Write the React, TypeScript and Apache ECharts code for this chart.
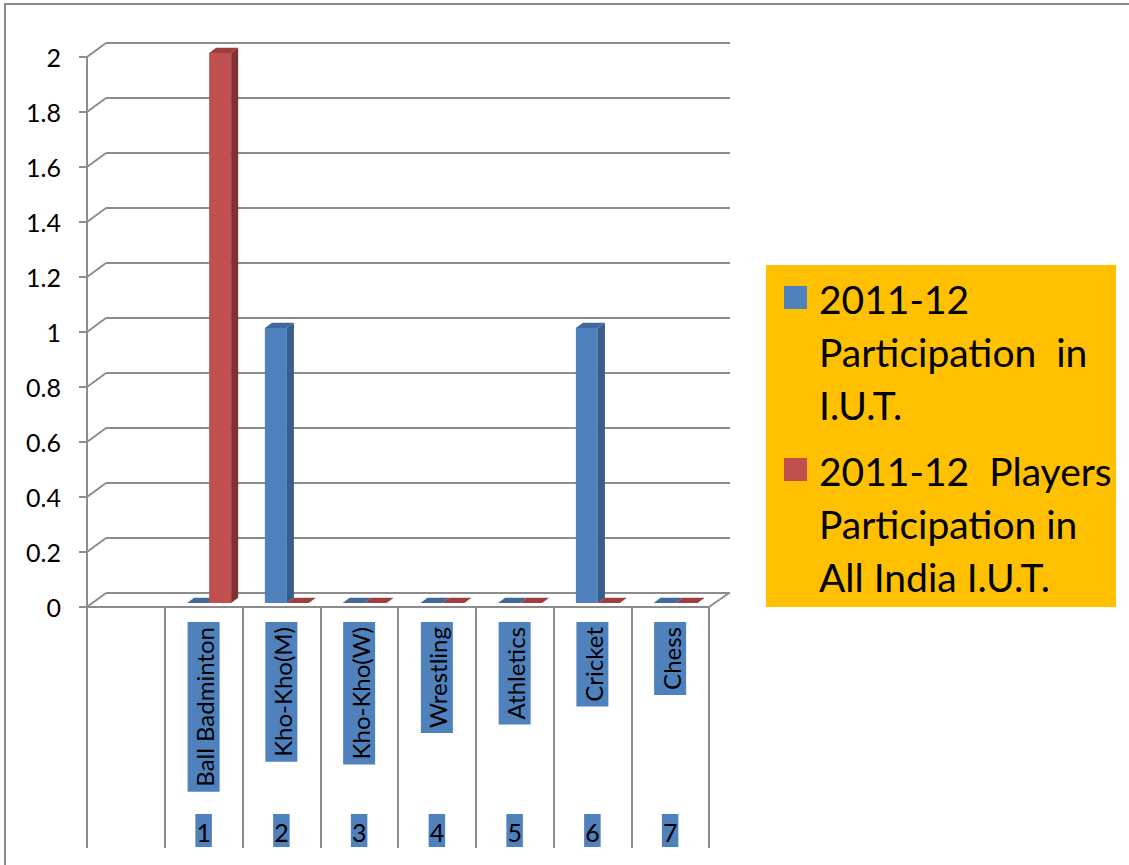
import React, { useEffect, useRef } from "react";
import * as echarts from "echarts";

const categories = ["", "Ball Badminton", "Kho-Kho(M)", "Kho-Kho(W)", "Wrestling", "Athletics", "Cricket", "Chess"];
const categoryNumbers = ["", "1", "2", "3", "4", "5", "6", "7"];
const participationIUT = [null, 0, 1, 0, 0, 0, 1, 0];
const playersAllIndia = [null, 2, 0, 0, 0, 0, 0, 0];
const seriesNames = ["2011-12 Participation  in I.U.T.", "2011-12  Players Participation in All India I.U.T."];
const legendLines = [
  ["2011-12", "Participation  in", "I.U.T."],
  ["2011-12  Players", "Participation in", "All India I.U.T."],
];
const yTicks = [0, 0.2, 0.4, 0.6, 0.8, 1, 1.2, 1.4, 1.6, 1.8, 2];

const FONT = "Lato";
const GRID_COLOR = "#8c8c8c";
const DEPTH = [19, -14];
const FRONT = ["#4F81BD", "#C0504D"];
const SIDE = ["#385D8A", "#7E3231"];
const TOP = ["#41699B", "#9E3F3C"];

function toData(arr: (number | null)[]) {
  const out: number[][] = [];
  arr.forEach((v, i) => {
    if (v !== null) out.push([i, v]);
  });
  return out;
}

function barRenderer(si: number) {
  return (params: any, api: any) => {
    const cat = api.value(0);
    const val = api.value(1);
    const base = api.coord([cat, 0]);
    const top = api.coord([cat, val]);
    const catW = api.size([1, 0])[0];
    const bw = catW * 0.283;
    const d0 = 0.29;
    const dd = 0.37;
    const ox = DEPTH[0] * d0;
    const oy = DEPTH[1] * d0;
    const ddx = DEPTH[0] * dd;
    const ddy = DEPTH[1] * dd;
    const xl = base[0] + (si === 0 ? -bw : 0) + ox;
    const xr = xl + bw;
    const yb = base[1] + oy;
    const yt = top[1] + oy;
    const children: any[] = [];
    if (yb - yt > 0.5) {
      children.push({
        type: "rect",
        shape: { x: xl, y: yt, width: bw, height: yb - yt },
        style: { fill: FRONT[si] },
      });
      children.push({
        type: "polygon",
        shape: { points: [[xr, yt], [xr + ddx, yt + ddy], [xr + ddx, yb + ddy], [xr, yb]] },
        style: { fill: SIDE[si] },
      });
    }
    children.push({
      type: "polygon",
      shape: { points: [[xl, yt], [xl + ddx, yt + ddy], [xr + ddx, yt + ddy], [xr, yt]] },
      style: { fill: TOP[si] },
    });
    return { type: "group", children };
  };
}

function wallRenderer(params: any, api: any) {
  const cs = params.coordSys;
  const v = api.value(1);
  const y = api.coord([0, v])[1];
  const children: any[] = [
    {
      type: "line",
      shape: { x1: cs.x, y1: y, x2: cs.x + DEPTH[0], y2: y + DEPTH[1] },
      style: { stroke: GRID_COLOR, lineWidth: 2 },
    },
  ];
  if (v === 0) {
    children.push({
      type: "line",
      shape: { x1: cs.x + cs.width, y1: y, x2: cs.x + cs.width + DEPTH[0] + 1, y2: y + DEPTH[1] },
      style: { stroke: GRID_COLOR, lineWidth: 2 },
    });
  }
  return { type: "group", children };
}

export default function App() {
  const ref = useRef<HTMLDivElement>(null);
  useEffect(() => {
    if (!ref.current) return;
    const chart = echarts.init(ref.current, null, { renderer: "svg" });
    const legendChildren: any[] = [
      { type: "rect", shape: { x: 766, y: 265, width: 350, height: 342 }, style: { fill: "#FFC000" } },
    ];
    const itemTops = [298, 470];
    legendLines.forEach((lines, i) => {
      legendChildren.push({
        type: "rect",
        shape: { x: 784, y: itemTops[i] - 12, width: 23, height: 23 },
        style: { fill: FRONT[i] },
      });
      legendChildren.push({
        type: "text",
        x: 819,
        y: itemTops[i] - 26,
        style: {
          text: lines.join("\n"),
          fontFamily: FONT,
          fontSize: 39,
          lineHeight: 53,
          fill: "#000",
          verticalAlign: "top",
        },
      });
    });

    const option: any = {
      animation: false,
      backgroundColor: "#fff",
      grid: [
        { left: 87, top: 57, right: 1129 - 709, bottom: 865 - 607 },
        { left: 106, top: 43, right: 1129 - 730, bottom: 865 - 593 },
      ],
      xAxis: [
        {
          type: "category",
          gridIndex: 0,
          position: "bottom",
          data: categories,
          axisLine: { show: true, lineStyle: { color: GRID_COLOR, width: 2 } },
          axisTick: { show: true, interval: 0, length: 241, lineStyle: { color: GRID_COLOR, width: 2 } },
          axisLabel: {
            interval: 0,
            rotate: 90,
            margin: 15,
            formatter: (v: string) => (v ? "{b|" + v + "}" : ""),
            rich: {
              b: {
                backgroundColor: "#4F81BD",
                padding: [5, 5, 3, 5],
                fontSize: 24,
                fontFamily: FONT,
                color: "#000",
              },
            },
          },
        },
        {
          type: "category",
          gridIndex: 0,
          position: "bottom",
          data: categoryNumbers,
          axisLine: { show: false },
          axisTick: { show: false },
          axisLabel: {
            interval: 0,
            margin: 207,
            formatter: (v: string) => (v ? "{n|" + v + "}" : ""),
            rich: {
              n: {
                backgroundColor: "#4F81BD",
                padding: [5, 1, 3, 1],
                fontSize: 25,
                fontFamily: FONT,
                color: "#000",
              },
            },
          },
        },
        {
          type: "category",
          gridIndex: 1,
          data: categories,
          show: false,
        },
      ],
      yAxis: [
        {
          type: "value",
          gridIndex: 0,
          min: 0,
          max: 2,
          interval: 0.2,
          axisLine: { show: true, lineStyle: { color: GRID_COLOR, width: 2 } },
          axisTick: { show: true, length: 8, lineStyle: { color: GRID_COLOR, width: 2 } },
          splitLine: { show: false },
          axisLabel: { fontSize: 25, fontFamily: FONT, color: "#000", margin: 26 },
        },
        {
          type: "value",
          gridIndex: 1,
          min: 0,
          max: 2,
          interval: 0.2,
          axisLine: { show: false },
          axisTick: { show: false },
          axisLabel: { show: false },
          splitLine: { show: true, lineStyle: { color: GRID_COLOR, width: 2 } },
        },
      ],
      series: [
        {
          type: "custom",
          name: "walls",
          xAxisIndex: 0,
          yAxisIndex: 0,
          silent: true,
          z: 1,
          renderItem: wallRenderer,
          data: yTicks.map((v) => [0, v]),
        },
        {
          type: "custom",
          name: seriesNames[0],
          xAxisIndex: 0,
          yAxisIndex: 0,
          z: 3,
          renderItem: barRenderer(0),
          encode: { x: 0, y: 1 },
          data: toData(participationIUT),
        },
        {
          type: "custom",
          name: seriesNames[1],
          xAxisIndex: 0,
          yAxisIndex: 0,
          z: 3,
          renderItem: barRenderer(1),
          encode: { x: 0, y: 1 },
          data: toData(playersAllIndia),
        },
      ],
      graphic: [
        {
          type: "rect",
          shape: { x: 5, y: 4, width: 1200, height: 900 },
          style: { fill: "none", stroke: GRID_COLOR, lineWidth: 2 },
          silent: true,
          z: -1,
        },
        { type: "group", children: legendChildren },
      ],
    };
    chart.setOption(option);
    return () => chart.dispose();
  }, []);
  return (
    <div
      ref={ref}
      style={{ position: "fixed", left: 0, top: 0, width: 1129, height: 865 }}
    />
  );
}
